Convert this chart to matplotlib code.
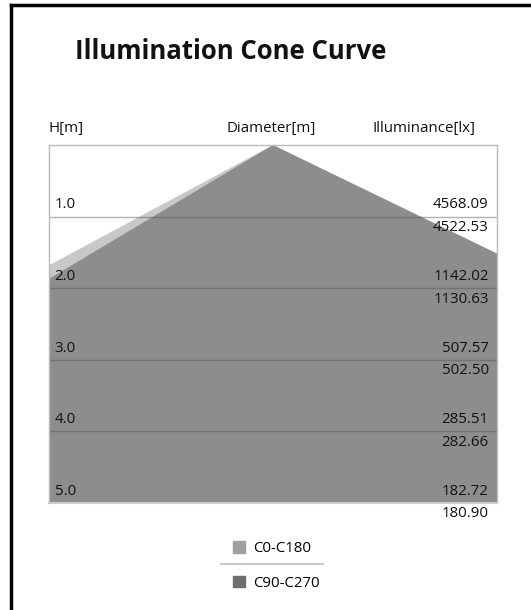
import matplotlib
matplotlib.use("Agg")
import matplotlib.pyplot as plt
from matplotlib.lines import Line2D
from matplotlib.patches import Patch

# data
heights = [1.0, 2.0, 3.0, 4.0, 5.0]
h_labels = ["1.0", "2.0", "3.0", "4.0", "5.0"]
lux_c0 = ["4568.09", "1142.02", "507.57", "285.51", "182.72"]
lux_c90 = ["4522.53", "1130.63", "502.50", "282.66", "180.90"]

# cone radius [m] per metre of height (left, right)
c0_radius = [1.19, 1.19]
c90_radius = [1.07, 1.32]
half_span = 2.0   # half of the diameter range shown

col_c0 = "#c8c8c8"
col_c90 = "#8d8d8d"
leg_c0 = "#a0a0a0"
leg_c90 = "#6e6e6e"

plt.rcParams['font.family'] = ['Open Sans', 'DejaVu Sans']

W, H = 531, 610
fig = plt.figure(figsize=(W / 100, H / 100), dpi=100)

def fx(px):
    return px / W

def fy(py):
    return 1 - py / H

ax = fig.add_axes([fx(49), fy(503), fx(497) - fx(49), fy(145) - fy(503)])
ax.set_xlim(-half_span, half_span)
ax.set_ylim(heights[-1], 0)

hh = [0] + heights
ax.fill_betweenx(hh, [-c0_radius[0] * h for h in hh], [c0_radius[1] * h for h in hh],
                 color=col_c0, lw=0)
ax.fill_betweenx(hh, [-c90_radius[0] * h for h in hh], [c90_radius[1] * h for h in hh],
                 color=col_c90, lw=0)

for h in heights:
    ax.axhline(h, color="#555555", alpha=0.45, lw=1)

for s in ["top", "left", "right"]:
    ax.spines[s].set_color("#bbbbbb")
    ax.spines[s].set_linewidth(1)
ax.spines["bottom"].set_color("#cccccc")
ax.spines["bottom"].set_linewidth(1.5)
ax.set_xticks([])
ax.set_yticks([])

fs = 10.8
for h, lab, a, b in zip(heights, h_labels, lux_c0, lux_c90):
    ax.annotate(lab, (0, h), xycoords=("axes fraction", "data"), xytext=(4, 3),
                textcoords="offset points", ha="left", va="bottom", fontsize=fs, color="#111111")
    ax.annotate(a, (1, h), xycoords=("axes fraction", "data"), xytext=(-6, 3),
                textcoords="offset points", ha="right", va="bottom", fontsize=fs, color="#111111")
    ax.annotate(b, (1, h), xycoords=("axes fraction", "data"), xytext=(-6, -2.5),
                textcoords="offset points", ha="right", va="top", fontsize=fs, color="#111111")

fig.text(fx(75), fy(59), "Illumination Cone Curve", fontsize=18.5, fontweight="bold",
         ha="left", va="baseline", color="#111111")
fig.text(fx(49), fy(132), "H[m]", fontsize=fs, ha="left", va="baseline", color="#111111")
fig.text(fx(271), fy(132), "Diameter[m]", fontsize=fs, ha="center", va="baseline", color="#111111")
fig.text(fx(475), fy(132), "Illuminance[lx]", fontsize=fs, ha="right", va="baseline", color="#111111")

# legend
handles = [Patch(color=leg_c0, label="C0-C180"), Patch(color=leg_c90, label="C90-C270")]
leg = fig.legend(handles=handles, loc="center", bbox_to_anchor=(fx(276), fy(566)),
                 frameon=False, fontsize=fs, handlelength=0.8, handleheight=0.8,
                 handletextpad=0.55, labelspacing=1.3)
fig.add_artist(Line2D([fx(221), fx(323)], [fy(564), fy(564)], color="#bbbbbb", lw=1.2))

# screenshot border (left and top)
fig.add_artist(Line2D([fx(11), fx(11)], [0, fy(5)], color="black", lw=2.5))
fig.add_artist(Line2D([fx(11), 1], [fy(5), fy(5)], color="black", lw=2.5))

fig.savefig("out.png", dpi=100)
